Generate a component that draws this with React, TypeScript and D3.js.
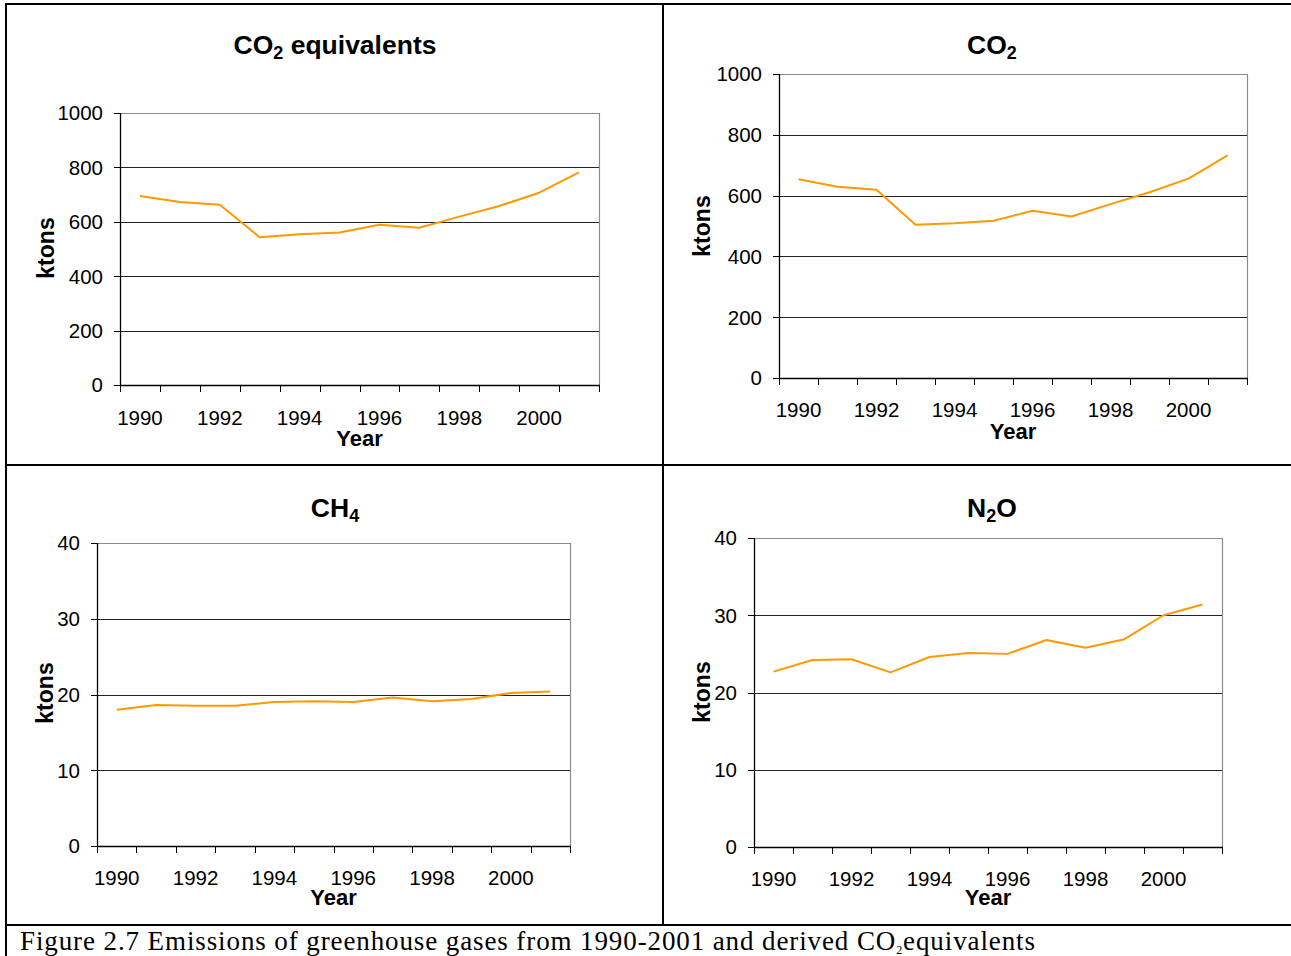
import * as React from "react";
import { line, scaleBand, scaleLinear } from "d3";

// data
const years = [1990, 1991, 1992, 1993, 1994, 1995, 1996, 1997, 1998, 1999, 2000, 2001];
const yearLabels = [1990, 1992, 1994, 1996, 1998, 2000];
const co2eqValues = [695, 673, 663, 543, 554, 561, 589, 578, 619, 658, 707, 782];
const co2Values = [654, 629, 619, 504, 509, 517, 550, 531, 572, 611, 656, 732];
const ch4Values = [18.0, 18.6, 18.5, 18.5, 19.0, 19.1, 19.0, 19.6, 19.1, 19.4, 20.2, 20.4];
const n2oValues = [22.7, 24.2, 24.3, 22.6, 24.6, 25.1, 25.0, 26.8, 25.8, 26.9, 30.0, 31.4];
const ktonTicks = [0, 200, 400, 600, 800, 1000];
const smallTicks = [0, 10, 20, 30, 40];

const SANS = "'Liberation Sans', Arial, Helvetica, sans-serif";
const LINE_COLOR = "#FF9900";

type Frame = {
  left: number; right: number; top: number; bottom: number;
  titleX: number; titleY: number; ktonsX: number; ktonsY: number;
  labelY: number; yearY: number;
};

const Title = (props: { parts: [string, string, string]; x: number; y: number }) => {
  const [a, sub, b] = props.parts;
  return (
    <text x={props.x} y={props.y} textAnchor="middle" fontFamily={SANS} fontWeight="bold" fontSize={26.5}>
      {a}
      <tspan fontSize={18} dy={5}>{sub}</tspan>
      <tspan dy={-5}>{b}</tspan>
    </text>
  );
};

const Panel = (props: { frame: Frame; values: number[]; ticks: number[]; title: [string, string, string] }) => {
  const { frame: f, values, ticks, title } = props;

  const xScale = scaleBand<number>()
    .domain(years)
    .range([f.left, f.right]);

  const yScale = scaleLinear()
    .domain([ticks[0], ticks[ticks.length - 1]])
    .range([f.bottom, f.top]);

  const path = line<number>()
    .x((_, i) => xScale(years[i])! + xScale.bandwidth() / 2)
    .y((d) => yScale(d))(values);

  const bounds = years.map((y) => xScale(y)!).concat([f.right]);

  return (
    <g>
      <Title parts={title} x={f.titleX} y={f.titleY} />
      {/* frame top/right */}
      <path d={`M${f.left},${f.top + 0.5}H${f.right + 0.5}V${f.bottom}`} fill="none" stroke="#8c8c8c" strokeWidth={1.2} />
      {ticks.slice(1, -1).map((t) => (
        <line key={t} x1={f.left} x2={f.right} y1={Math.round(yScale(t)) + 0.5} y2={Math.round(yScale(t)) + 0.5} stroke="#222" strokeWidth={1} />
      ))}
      {/* y axis */}
      <line x1={f.left + 0.5} x2={f.left + 0.5} y1={f.top} y2={f.bottom} stroke="#000" strokeWidth={1.3} />
      {ticks.map((t) => (
        <g key={t}>
          <line x1={f.left - 6} x2={f.left} y1={Math.round(yScale(t)) + 0.5} y2={Math.round(yScale(t)) + 0.5} stroke="#000" />
          <text x={f.left - 17} y={yScale(t)} dy="0.36em" textAnchor="end" fontFamily={SANS} fontSize={20.5}>{t}</text>
        </g>
      ))}
      {/* x axis */}
      <line x1={f.left} x2={f.right + 1} y1={f.bottom + 0.5} y2={f.bottom + 0.5} stroke="#000" strokeWidth={1.3} />
      {bounds.map((b, i) => (
        <line key={i} x1={Math.round(b) + 0.5} x2={Math.round(b) + 0.5} y1={f.bottom} y2={f.bottom + 7} stroke="#000" />
      ))}
      {yearLabels.map((y) => (
        <text key={y} x={xScale(y)! + xScale.bandwidth() / 2} y={f.labelY} textAnchor="middle" fontFamily={SANS} fontSize={20.5}>{y}</text>
      ))}
      <text x={(f.left + f.right) / 2} y={f.yearY} textAnchor="middle" fontFamily={SANS} fontWeight="bold" fontSize={22}>Year</text>
      <text transform={`translate(${f.ktonsX},${f.ktonsY}) rotate(-90)`} dy="0.36em" textAnchor="middle" fontFamily={SANS} fontWeight="bold" fontSize={23}>ktons</text>
      <path d={path ?? ""} fill="none" stroke={LINE_COLOR} strokeWidth={2} strokeLinejoin="round" />
    </g>
  );
};

const frames: Frame[] = [
  { left: 120, right: 599, top: 113, bottom: 385, titleX: 335, titleY: 54, ktonsX: 46, ktonsY: 248, labelY: 425, yearY: 446 },
  { left: 779, right: 1247, top: 74, bottom: 378, titleX: 992, titleY: 54, ktonsX: 702, ktonsY: 226, labelY: 417, yearY: 439 },
  { left: 97, right: 570, top: 543, bottom: 846, titleX: 335, titleY: 517, ktonsX: 45, ktonsY: 693, labelY: 885, yearY: 905 },
  { left: 754, right: 1222, top: 538, bottom: 847, titleX: 992, titleY: 517, ktonsX: 702, ktonsY: 692, labelY: 886, yearY: 905 },
];

export default function App() {
  return (
    <svg width={1291} height={956} style={{ position: "absolute", left: 0, top: 0, background: "#fff" }}>
      <rect width={1291} height={956} fill="#fff" />
      {/* table rules */}
      <g stroke="#000" strokeWidth={2}>
        <line x1={6} x2={1291} y1={4} y2={4} />
        <line x1={6} x2={1291} y1={465} y2={465} />
        <line x1={6} x2={1291} y1={925} y2={925} />
        <line x1={6} x2={6} y1={3} y2={956} />
        <line x1={663} x2={663} y1={3} y2={926} />
      </g>
      <Panel frame={frames[0]} values={co2eqValues} ticks={ktonTicks} title={["CO", "2", " equivalents"]} />
      <Panel frame={frames[1]} values={co2Values} ticks={ktonTicks} title={["CO", "2", ""]} />
      <Panel frame={frames[2]} values={ch4Values} ticks={smallTicks} title={["CH", "4", ""]} />
      <Panel frame={frames[3]} values={n2oValues} ticks={smallTicks} title={["N", "2", "O"]} />
      <text x={20} y={950} fontFamily="'Liberation Serif', 'DejaVu Serif', serif" fontSize={27} textLength={1015} lengthAdjust="spacing">
        Figure 2.7 Emissions of greenhouse gases from 1990-2001 and derived CO
        <tspan fontSize={12} dy={4}>2</tspan>
        <tspan dy={-4}>equivalents</tspan>
      </text>
    </svg>
  );
}
